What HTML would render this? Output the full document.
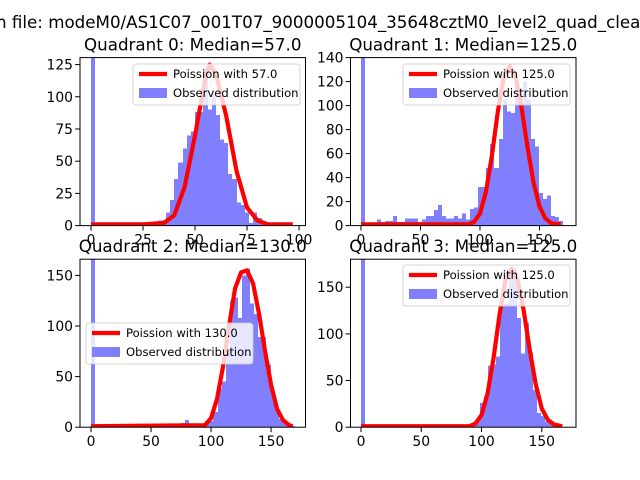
<!DOCTYPE html>
<html><head><meta charset="utf-8"><style>
body{margin:0;background:#fff;width:640px;height:480px;overflow:hidden}
svg{display:block;font-family:"DejaVu Sans","Liberation Sans",sans-serif}
</style></head><body>
<svg id="fig" width="640" height="480">
<rect width="640" height="480" fill="#fff"/>
<text x="-4" y="28" font-size="16.7">n file: modeM0/AS1C07_001T07_9000005104_35648cztM0_level2_quad_clean</text>
</svg>
<script>
const q0Counts=[150,0,0,0,0,0,0,1,1,0,1,0,1,1,2,2,4,4,10,20,36,49,60,70,73,88,88,121,90,103,86,67,64,40,36,18,16,10,2,10,6,2,1,1,1,0,1,0,0];
const q1Counts=[200,0,0,0,5,3,4,4,8,3,3,6,6,6,3,5,8,8,13,17,8,6,6,8,6,10,5,14,15,32,32,48,68,48,72,105,95,94,121,100,120,105,72,66,27,22,25,8,7,4];
const q2Counts=[170,0,0,0,0,0,0,0,0,0,0,0,0,0,0,0,0,0,0,0,0,2,4,7,3,3,1,2,6,6,15,38,45,77,124,128,108,150,157,122,112,89,89,62,36,17,8,5,2,1];
const q3Counts=[190,0,0,0,0,0,0,0,0,0,0,0,0,0,0,0,0,0,0,0,3,1,3,3,2,2,1,3,8,26,33,66,67,76,130,132,169,171,117,79,112,80,40,15,12,6,6,3,1];
const q0CurveX=[0,25,35,40,45,50,55,57,60,65,70,75,80,85,97];
const q0CurveY=[1,1,2,8,30,70,115,125,118,85,42,14,4,1,1];
const q1CurveX=[0,90,95,100,105,110,115,120,125,130,135,140,145,150,155,160,168];
const q1CurveY=[1,1,3,10,28,58,95,124,133,124,98,65,36,16,6,2,1];
const q2CurveX=[0,95,100,105,110,115,120,125,130,135,140,145,150,155,160,165,168];
const q2CurveY=[1,2,9,28,60,100,137,153,155,142,112,75,42,18,7,2,1];
const q3CurveX=[0,90,95,100,105,110,115,120,125,130,135,140,145,150,155,160,167];
const q3CurveY=[1,1,4,13,36,74,121,158,170,158,125,83,46,20,8,3,1];
const q0XTicks=[0,25,50,75,100], q0YTicks=[0,25,50,75,100,125];
const q13XTicks=[0,50,100,150];
const q1YTicks=[0,20,40,60,80,100,120,140];
const q23YTicks=[0,50,100,150];
const titles=["Quadrant 0: Median=57.0","Quadrant 1: Median=125.0","Quadrant 2: Median=130.0","Quadrant 3: Median=125.0"];
const lambdas=["57.0","125.0","130.0","125.0"];

const NS="http://www.w3.org/2000/svg";
const fig=document.getElementById('fig');
function mk(tag,attrs,parent){const e=document.createElementNS(NS,tag);for(const k in attrs)e.setAttribute(k,attrs[k]);(parent||fig).appendChild(e);return e;}

const panels=[
 {l:80,t:57.6,w:225.5,h:168,xmin:-5.3,xmax:103.1,ymax:130.4,bw:2,counts:q0Counts,cx:q0CurveX,cy:q0CurveY,xt:q0XTicks,yt:q0YTicks,leg:[133,64]},
 {l:350.5,t:57.6,w:225.5,h:168,xmin:-8.8,xmax:180.7,ymax:140,bw:3.4,counts:q1Counts,cx:q1CurveX,cy:q1CurveY,xt:q13XTicks,yt:q1YTicks,leg:[403,64]},
 {l:80,t:259.2,w:225.5,h:168,xmin:-9.2,xmax:178.7,ymax:166,bw:3.4,counts:q2Counts,cx:q2CurveX,cy:q2CurveY,xt:q13XTicks,yt:q23YTicks,leg:[86,323]},
 {l:350.5,t:259.2,w:225.5,h:168,xmin:-8.7,xmax:178.4,ymax:180,bw:3.4,counts:q3Counts,cx:q3CurveX,cy:q3CurveY,xt:q13XTicks,yt:q23YTicks,leg:[403,265]}
];
panels.forEach((p,i)=>{
 const g=mk('g',{});
 
 
 const X=v=>p.l+(v-p.xmin)/(p.xmax-p.xmin)*p.w;
 const Y=v=>p.t+p.h-v/p.ymax*p.h;
 const cid='clip'+i;
 const cp=mk('clipPath',{id:cid},g);mk('rect',{x:p.l,y:p.t,width:p.w,height:p.h},cp);
 const bars=mk('g',{'clip-path':'url(#'+cid+')'},g);
 const barG=mk('g',{fill:'#8080ff','shape-rendering':'crispEdges'},bars);
 p.counts.forEach((c,k)=>{
  if(c<=0)return;
  const x0=Math.round(X(k*p.bw)), x1=Math.round(X((k+1)*p.bw));
  const r=mk('rect',{x:x0,y:Y(c),width:Math.max(1,x1-x0),height:Y(0)-Y(c)},barG);
  
  
 });
 const pts=p.cx.map((x,k)=>X(x)+','+Y(p.cy[k])).join(' ');
 const ln=mk('polyline',{points:pts,fill:'none',stroke:'#ff0000','stroke-width':4.2,'stroke-linejoin':'round'},bars);
 
 
 mk('rect',{x:p.l,y:p.t,width:p.w,height:p.h,fill:'none',stroke:'#000','stroke-width':1},g);
 p.xt.forEach(v=>{const x=X(v);mk('line',{x1:x,x2:x,y1:p.t+p.h,y2:p.t+p.h+4.9,stroke:'#000'},g);
  const t=mk('text',{x:x,y:p.t+p.h+19,'text-anchor':'middle','font-size':13.9},g);t.textContent=v;
  });
 p.yt.forEach(v=>{const y=Y(v);mk('line',{x1:p.l-4.9,x2:p.l,y1:y,y2:y,stroke:'#000'},g);
  const t=mk('text',{x:p.l-7,y:y+5,'text-anchor':'end','font-size':13.9},g);t.textContent=v;
  });
 const tt=mk('text',{x:p.l+p.w/2,y:p.t-7,'text-anchor':'middle','font-size':16.7},g);tt.textContent=titles[i];
 
 const [lx,ly]=p.leg;
 const lg=mk('g',{},g);
 
 
 mk('rect',{x:lx,y:ly,width:167,height:41,rx:3,fill:'#fff','fill-opacity':0.8,stroke:'#ccc','stroke-opacity':0.8},lg);
 mk('line',{x1:lx+6,x2:lx+34,y1:ly+10,y2:ly+10,stroke:'#ff0000','stroke-width':4.2},lg);
 mk('rect',{x:lx+6,y:ly+24,width:28,height:10,fill:'#8080ff'},lg);
 const t1=mk('text',{x:lx+40,y:ly+14,'font-size':11.6},lg);t1.textContent='Poission with '+lambdas[i];
 const t2=mk('text',{x:lx+40,y:ly+33,'font-size':11.6},lg);t2.textContent='Observed distribution';
});
</script>
</body></html>
